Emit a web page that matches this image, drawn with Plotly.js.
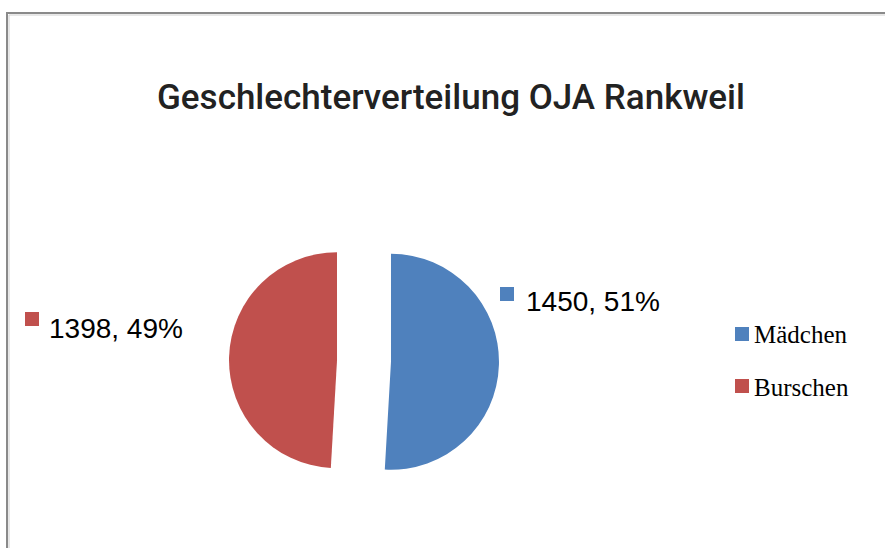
<!DOCTYPE html>
<html>
<head>
<meta charset="utf-8">
<script src="https://cdn.plot.ly/plotly-3.0.1.min.js"></script>
<style>html,body{margin:0;padding:0;background:#fff}#chart{width:885px;height:548px}</style>
</head>
<body>
<div id="chart"></div>
<script>
// Data
const categories = ["Mädchen", "Burschen"];
const values = [1450, 1398];
const chartTitle = "Geschlechterverteilung OJA Rankweil";

// Styles
const colors = ["#4F81BD", "#C0504D"];
const W = 885, H = 548;
const px = x => x / W;
const py = y => 1 - y / H;

const total = values.reduce((a, b) => a + b, 0);
const labelTexts = values.map(v => v + ", " + Math.round(v / total * 100) + "%");

// label placement (pixels): [markerLeft, markerTop, textLeft, textCenterY]
const labelPos = [
  [500, 287, 524, 301],
  [25, 312, 47, 328]
];
const legendPos = [
  [735, 327, 752, 335],
  [735, 379, 752, 387]
];
const sq = 14;

const shapes = [
  {type: "line", xref: "paper", yref: "paper", x0: px(7), x1: px(885), y0: py(13), y1: py(13), line: {color: "#8a8a8a", width: 2}},
  {type: "line", xref: "paper", yref: "paper", x0: px(7), x1: px(7), y0: py(12), y1: py(548), line: {color: "#8a8a8a", width: 2}},
  {type: "line", xref: "paper", yref: "paper", x0: px(9), x1: px(885), y0: py(15), y1: py(15), line: {color: "#d0d0d0", width: 1}},
  {type: "line", xref: "paper", yref: "paper", x0: px(9), x1: px(9), y0: py(15), y1: py(548), line: {color: "#d0d0d0", width: 1}}
];
const annotations = [];

values.forEach((v, i) => {
  const lp = labelPos[i];
  shapes.push({type: "rect", xref: "paper", yref: "paper",
    x0: px(lp[0]), x1: px(lp[0] + sq), y0: py(lp[1] + sq), y1: py(lp[1]),
    fillcolor: colors[i], line: {width: 0}});
  annotations.push({xref: "paper", yref: "paper", x: px(lp[2]), y: py(lp[3]),
    xanchor: "left", yanchor: "middle", showarrow: false, text: labelTexts[i],
    font: {family: "Liberation Sans, Arial, sans-serif", size: 28, color: "#000"}});
  const gp = legendPos[i];
  shapes.push({type: "rect", xref: "paper", yref: "paper",
    x0: px(gp[0]), x1: px(gp[0] + sq), y0: py(gp[1] + sq), y1: py(gp[1]),
    fillcolor: colors[i], line: {width: 0}});
  annotations.push({xref: "paper", yref: "paper", x: px(gp[2]), y: py(gp[3]),
    xanchor: "left", yanchor: "middle", showarrow: false, text: categories[i],
    font: {family: "Liberation Serif, Times New Roman, serif", size: 25, color: "#000"}});
});

const trace = {
  type: "pie",
  labels: categories,
  values: values,
  sort: false,
  direction: "clockwise",
  rotation: 0,
  pull: [0.25, 0.25],
  marker: {colors: colors, line: {width: 0}},
  textinfo: "none",
  hoverinfo: "label+value+percent",
  showlegend: false,
  domain: {x: [px(229), px(499)], y: [py(496), py(226)]}
};

const layout = {
  width: W, height: H,
  margin: {l: 0, r: 0, t: 0, b: 0},
  paper_bgcolor: "#fff",
  plot_bgcolor: "#fff",
  showlegend: false,
  title: {text: chartTitle, x: 451 / W, xanchor: "center", y: 1 - 97 / H, yanchor: "middle", yref: "container",
    font: {family: "Roboto, DejaVu Sans, sans-serif", size: 35, weight: 500, color: "#222"}},
  shapes: shapes,
  annotations: annotations
};

Plotly.newPlot("chart", [trace], layout, {displayModeBar: false, staticPlot: true});
</script>
</body>
</html>
